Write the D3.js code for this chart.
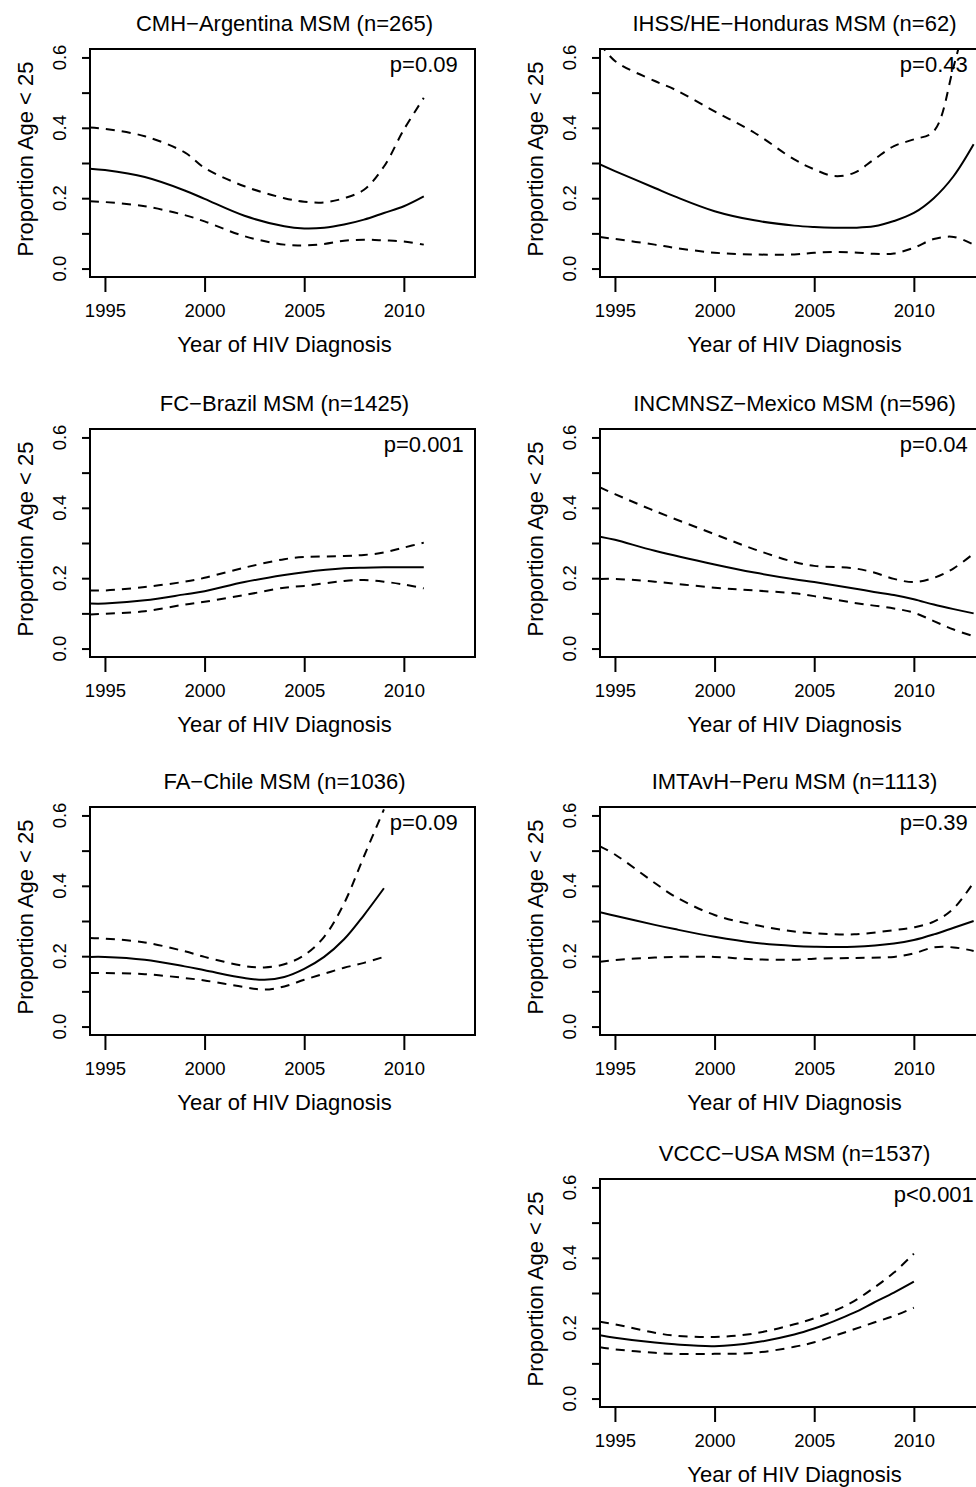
<!DOCTYPE html>
<html>
<head>
<meta charset="utf-8">
<script src="https://cdn.jsdelivr.net/npm/d3@7"></script>
<style>
  body { margin: 0; background: #fff; }
  svg text { font-family: "Liberation Sans", Arial, Helvetica, sans-serif; fill: #000; }
</style>
</head>
<body>
<svg id="chart" width="976" height="1487"></svg>
<script>
// panel titles and p-values
var titles = [
  "CMH\u2212Argentina MSM (n=265)",
  "IHSS/HE\u2212Honduras MSM (n=62)",
  "FC\u2212Brazil MSM (n=1425)",
  "INCMNSZ\u2212Mexico MSM (n=596)",
  "FA\u2212Chile MSM (n=1036)",
  "IMTAvH\u2212Peru MSM (n=1113)",
  "VCCC\u2212USA MSM (n=1537)"
];
var pvalues = ["p=0.09", "p=0.43", "p=0.001", "p=0.04", "p=0.09", "p=0.39", "p<0.001"];

var xTicks = [1995, 2000, 2005, 2010];
var yTicks = [0, 0.1, 0.2, 0.3, 0.4, 0.5, 0.6];
var yLabels = [0, 0.2, 0.4, 0.6];

// CMH-Argentina
var argYears = [1994.25, 1995, 1997, 1999, 2000, 2002, 2004, 2005, 2006, 2007, 2008, 2009, 2010, 2011];
var argEst = [0.284, 0.280, 0.260, 0.222, 0.198, 0.150, 0.120, 0.114, 0.116, 0.125, 0.139, 0.158, 0.177, 0.205];
var argHi  = [0.401, 0.397, 0.376, 0.330, 0.286, 0.234, 0.200, 0.190, 0.188, 0.200, 0.224, 0.290, 0.395, 0.485];
var argLo  = [0.191, 0.189, 0.177, 0.152, 0.134, 0.092, 0.068, 0.066, 0.070, 0.079, 0.082, 0.080, 0.077, 0.068];

// IHSS/HE-Honduras
var honYears = [1994.25, 1995, 1997, 1998, 2000, 2002, 2004, 2005, 2006, 2007, 2008, 2009, 2010, 2011, 2012, 2013];
var honEst = [0.296, 0.277, 0.229, 0.205, 0.163, 0.137, 0.122, 0.118, 0.116, 0.116, 0.120, 0.135, 0.158, 0.200, 0.263, 0.353];
var honHi  = [0.640, 0.590, 0.533, 0.509, 0.447, 0.386, 0.310, 0.282, 0.263, 0.272, 0.310, 0.348, 0.367, 0.390, 0.575, 0.800];
var honLo  = [0.090, 0.084, 0.068, 0.059, 0.045, 0.040, 0.040, 0.045, 0.047, 0.046, 0.042, 0.043, 0.059, 0.084, 0.090, 0.068];

// FC-Brazil
var braYears = [1994.25, 1995, 1997, 1999, 2000, 2002, 2004, 2005, 2007, 2008, 2009, 2010, 2011];
var braEst = [0.128, 0.128, 0.137, 0.154, 0.163, 0.189, 0.209, 0.217, 0.228, 0.230, 0.231, 0.231, 0.231];
var braHi  = [0.165, 0.165, 0.175, 0.190, 0.201, 0.230, 0.254, 0.260, 0.263, 0.266, 0.273, 0.287, 0.301];
var braLo  = [0.097, 0.099, 0.106, 0.125, 0.133, 0.152, 0.173, 0.178, 0.192, 0.195, 0.190, 0.182, 0.171];

// INCMNSZ-Mexico
var mexYears = [1994.25, 1995, 1997, 2000, 2002, 2004, 2005, 2007, 2008, 2009, 2010, 2011, 2012, 2013];
var mexEst = [0.318, 0.309, 0.278, 0.239, 0.216, 0.197, 0.189, 0.171, 0.161, 0.152, 0.140, 0.125, 0.112, 0.100];
var mexHi  = [0.458, 0.439, 0.391, 0.325, 0.282, 0.246, 0.235, 0.228, 0.216, 0.198, 0.189, 0.201, 0.228, 0.270];
var mexLo  = [0.198, 0.198, 0.190, 0.173, 0.165, 0.157, 0.149, 0.130, 0.122, 0.114, 0.102, 0.078, 0.054, 0.035];

// FA-Chile
var chiYears = [1994.25, 1995, 1997, 1999, 2000, 2002, 2003, 2004, 2005, 2006, 2007, 2008, 2009];
var chiEst = [0.198, 0.198, 0.190, 0.171, 0.160, 0.138, 0.133, 0.141, 0.164, 0.198, 0.248, 0.317, 0.393];
var chiHi  = [0.252, 0.250, 0.239, 0.214, 0.198, 0.172, 0.168, 0.177, 0.203, 0.255, 0.350, 0.484, 0.617];
var chiLo  = [0.152, 0.152, 0.149, 0.138, 0.131, 0.112, 0.105, 0.114, 0.133, 0.150, 0.167, 0.181, 0.198];

// IMTAvH-Peru
var perYears = [1994.25, 1995, 1997, 1998, 2000, 2002, 2004, 2005, 2007, 2009, 2010, 2011, 2012, 2013];
var perEst = [0.325, 0.315, 0.289, 0.277, 0.255, 0.238, 0.229, 0.227, 0.227, 0.236, 0.246, 0.262, 0.281, 0.300];
var perHi  = [0.512, 0.489, 0.408, 0.370, 0.317, 0.289, 0.270, 0.265, 0.262, 0.274, 0.282, 0.298, 0.336, 0.410];
var perLo  = [0.184, 0.189, 0.196, 0.198, 0.198, 0.191, 0.190, 0.193, 0.195, 0.198, 0.208, 0.225, 0.225, 0.215];

// VCCC-USA
var usaYears = [1994.25, 1995, 1997, 1998, 2000, 2002, 2004, 2005, 2006, 2007, 2008, 2009, 2010];
var usaEst = [0.180, 0.173, 0.159, 0.154, 0.149, 0.159, 0.182, 0.199, 0.220, 0.244, 0.273, 0.301, 0.332];
var usaHi  = [0.218, 0.211, 0.187, 0.179, 0.175, 0.185, 0.211, 0.228, 0.249, 0.277, 0.315, 0.358, 0.412];
var usaLo  = [0.146, 0.140, 0.130, 0.127, 0.127, 0.130, 0.147, 0.160, 0.178, 0.197, 0.216, 0.235, 0.258];

var series = [
  [argYears, argEst, argLo, argHi],
  [honYears, honEst, honLo, honHi],
  [braYears, braEst, braLo, braHi],
  [mexYears, mexEst, mexLo, mexHi],
  [chiYears, chiEst, chiLo, chiHi],
  [perYears, perEst, perLo, perHi],
  [usaYears, usaEst, usaLo, usaHi]
];

// layout: [column, row] of each panel; bottom-left cell is empty
var cells = [[0, 0], [1, 0], [0, 1], [1, 1], [0, 2], [1, 2], [1, 3]];
var colLeft = [90, 600];
var rowTop = [49, 429, 807, 1179];
var w = 385, h = 228;

var svg = d3.select("#chart");
svg.append("rect").attr("width", 976).attr("height", 1487).attr("fill", "#fff");

var x = d3.scaleLinear().domain([1994.25, 2013.57]).range([0, w]);
var y = d3.scaleLinear().domain([-0.024, 0.624]).range([h, 0]);

var line = d3.line()
  .x(function(d) { return x(d[0]); })
  .y(function(d) { return y(d[1]); })
  .curve(d3.curveCatmullRom.alpha(0.5));

series.forEach(function(s, i) {
  var g = svg.append("g")
    .attr("transform", "translate(" + colLeft[cells[i][0]] + "," + rowTop[cells[i][1]] + ")");

  g.append("clipPath").attr("id", "clip" + i)
    .append("rect").attr("width", w).attr("height", h);

  // estimate (solid) and confidence limits (dashed)
  var years = s[0];
  var plot = g.append("g").attr("clip-path", "url(#clip" + i + ")");
  [s[1], s[2], s[3]].forEach(function(vals, k) {
    plot.append("path")
      .datum(years.map(function(yr, j) { return [yr, vals[j]]; }))
      .attr("d", line)
      .attr("fill", "none")
      .attr("stroke", "#000")
      .attr("stroke-width", 2)
      .attr("stroke-dasharray", k === 0 ? null : "9,7");
  });

  // axes
  var xa = g.append("g").attr("transform", "translate(0," + h + ")")
    .call(d3.axisBottom(x).tickValues(xTicks).tickSize(15).tickSizeOuter(0).tickPadding(12).tickFormat(d3.format("d")));
  xa.select(".domain").remove();
  xa.selectAll("line").attr("stroke-width", 2);
  xa.selectAll("text").style("font-size", "18.5px").attr("font-family", null);

  var ya = g.append("g")
    .call(d3.axisLeft(y).tickValues(yTicks).tickSize(8).tickSizeOuter(0).tickFormat(""));
  ya.select(".domain").remove();
  ya.selectAll("line").attr("stroke-width", 2);

  g.selectAll(".ylab").data(yLabels).enter().append("text")
    .attr("class", "ylab")
    .attr("transform", function(d) { return "translate(-24," + y(d) + ") rotate(-90)"; })
    .attr("text-anchor", "middle")
    .style("font-size", "18.5px")
    .text(function(d) { return d.toFixed(1); });

  // box
  g.append("rect").attr("width", w).attr("height", h)
    .attr("fill", "none").attr("stroke", "#000").attr("stroke-width", 2);

  // texts
  g.append("text").attr("x", w / 2 + 2).attr("y", -18)
    .attr("text-anchor", "middle").style("font-size", "22px")
    .text(titles[i]);

  g.append("text").attr("x", w / 2 + 2).attr("y", h + 75)
    .attr("text-anchor", "middle").style("font-size", "22px")
    .text("Year of HIV Diagnosis");

  g.append("text")
    .attr("transform", "translate(-57," + (h / 2 - 4) + ") rotate(-90)")
    .attr("text-anchor", "middle").style("font-size", "22px")
    .text("Proportion Age < 25");

  g.append("text").attr("x", x(2011)).attr("y", y(0.6) + 15)
    .attr("text-anchor", "middle").style("font-size", "22px")
    .text(pvalues[i]);
});
</script>
</body>
</html>
